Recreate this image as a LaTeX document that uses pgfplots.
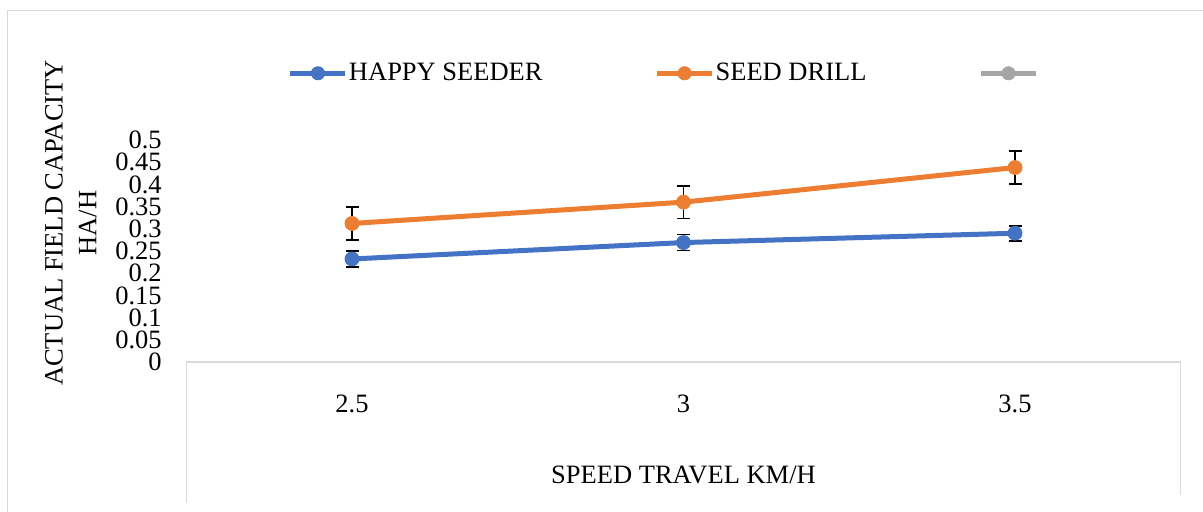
\documentclass[border=0pt]{standalone}
\usepackage{pgfplots}
\pgfplotsset{compat=1.18}
\usepackage{fontspec}
\setmainfont{Liberation Serif}
\definecolor{cblue}{HTML}{4472C4}
\definecolor{corange}{HTML}{ED7D31}
\definecolor{cgray}{HTML}{A5A5A5}
\definecolor{frame}{HTML}{D9D9D9}
\begin{document}
\begin{tikzpicture}
\useasboundingbox (0pt,0pt) rectangle (601.5pt,256pt);
\clip (0pt,0pt) rectangle (601.5pt,256pt);
\draw[frame, line width=0.7pt] (3.75pt,-10pt) -- (3.75pt,250.75pt) -- (640pt,250.75pt);
\draw[frame, line width=0.7pt] (93.125pt,4.5pt) -- (93.125pt,75pt) -- (590.375pt,75pt) -- (590.375pt,8.5pt);
\begin{axis}[
  at={(93.125pt,75pt)}, anchor=south west,
  scale only axis, width=497.25pt, height=111pt,
  xmin=2.25, xmax=3.75, ymin=0, ymax=0.5,
  axis line style={draw=none},
  major tick length=0pt,
  font=\fontsize{13.25pt}{16.85pt}\selectfont,
  xtick={2.5,3,3.5}, xticklabels={2.5,3,3.5},
  ytick={0,0.05,0.1,0.15,0.2,0.25,0.3,0.35,0.4,0.45,0.5},
  yticklabels={0,0.05,0.1,0.15,0.2,0.25,0.3,0.35,0.4,0.45,0.5},
  scaled ticks=false,
  yticklabel style={anchor=east, inner sep=0pt, xshift=-12.1pt},
  xticklabel style={anchor=base, inner sep=0pt, yshift=-25.35pt},
  xlabel={SPEED TRAVEL KM/H},
  xlabel style={at={(axis description cs:0.5,-0.5464)}, anchor=base, inner sep=0pt},
  ylabel={ACTUAL FIELD CAPACITY\\HA/H},
  ylabel style={align=center, at={(axis description cs:-0.116,0.626)}, anchor=center, inner sep=0pt},
  legend columns=3,
  legend style={draw=none, fill=none, inner sep=0pt, outer sep=0pt,
    at={(axis description cs:0.1023,1.3005)}, anchor=west,
    nodes={inner sep=0pt},
    /tikz/every odd column/.append style={column sep=0.5pt},
    /tikz/every even column/.append style={column sep=56pt}},
  legend image code/.code={
    \draw[#1, mark=none] (0pt,0pt) -- (27.5pt,0pt);
    \draw[#1, mark size=3.3pt] plot coordinates {(13.75pt,0pt)};
  },
  errbar/.style={draw=none, mark=none, forget plot,
    error bars/.cd, y dir=both, y explicit, error mark=|,
    error bar style={black, line width=0.8pt},
    error mark options={black, line width=0.9pt, mark size=3.25pt}},
  clip=false,
]
\addplot[cblue, line width=2.5pt, mark=*, mark size=3.5pt, mark options={line width=0.4pt}]
  coordinates {(2.5,0.232) (3,0.269) (3.5,0.290)};
\addlegendentry{HAPPY SEEDER}
\addplot[corange, line width=2.5pt, mark=*, mark size=3.5pt, mark options={line width=0.4pt}]
  coordinates {(2.5,0.312) (3,0.360) (3.5,0.438)};
\addlegendentry{SEED DRILL}
\addlegendimage{cgray, line width=2.5pt, mark=*, mark options={line width=0.4pt}}
\addlegendentry{}
\addplot[errbar]
  coordinates {(2.5,0.232) +- (0,0.018) (3,0.269) +- (0,0.018) (3.5,0.290) +- (0,0.017)};
\addplot[errbar]
  coordinates {(2.5,0.312) +- (0,0.037) (3,0.360) +- (0,0.037) (3.5,0.438) +- (0,0.037)};
\end{axis}
\end{tikzpicture}
\end{document}
